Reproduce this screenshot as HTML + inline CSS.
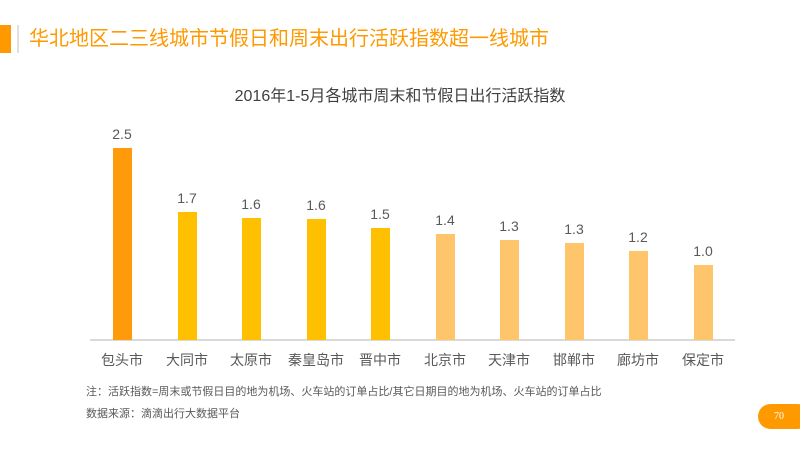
<!DOCTYPE html>
<html><head><meta charset="utf-8"><style>
body{margin:0;width:800px;height:450px;background:#fff;position:relative;overflow:hidden;font-family:"Liberation Sans","Noto Sans CJK SC",sans-serif;}
.a{position:absolute;}
.bar{position:absolute;width:19px;bottom:110px;}
.v{position:absolute;width:60px;text-align:center;font-size:14px;color:#595959;}
.l{position:absolute;width:80px;text-align:center;font-size:14px;color:#595959;top:350px;}
</style></head><body>
<div class="a" style="left:0;top:25px;width:11px;height:28px;background:#FF9900"></div>
<div class="a" style="left:17px;top:25px;width:2px;height:28px;background:#e0e0e0"></div>
<div class="a" style="left:29px;top:26px;font-size:20px;color:#FF9900;line-height:26px;">华北地区二三线城市节假日和周末出行活跃指数超一线城市</div>
<div class="a" style="left:0;width:800px;top:82px;text-align:center;font-size:16px;color:#404040;">2016年1-5月各城市周末和节假日出行活跃指数</div>
<div class="a" style="left:90px;top:339px;width:645px;height:2px;background:#d9d9d9"></div>

<div class="bar" style="left:113px;top:148px;background:#FF9A0A"></div>
<div class="bar" style="left:178px;top:212px;background:#FFC000"></div>
<div class="bar" style="left:242px;top:218px;background:#FFC000"></div>
<div class="bar" style="left:307px;top:219px;background:#FFC000"></div>
<div class="bar" style="left:371px;top:228px;background:#FFC000"></div>
<div class="bar" style="left:436px;top:234px;background:#FFC56A"></div>
<div class="bar" style="left:500px;top:240px;background:#FFC56A"></div>
<div class="bar" style="left:565px;top:243px;background:#FFC56A"></div>
<div class="bar" style="left:629px;top:251px;background:#FFC56A"></div>
<div class="bar" style="left:694px;top:265px;background:#FFC56A"></div>

<div class="v" style="left:92px;top:126px">2.5</div>
<div class="v" style="left:157px;top:190px">1.7</div>
<div class="v" style="left:221px;top:196px">1.6</div>
<div class="v" style="left:286px;top:197px">1.6</div>
<div class="v" style="left:350px;top:206px">1.5</div>
<div class="v" style="left:415px;top:212px">1.4</div>
<div class="v" style="left:479px;top:218px">1.3</div>
<div class="v" style="left:544px;top:221px">1.3</div>
<div class="v" style="left:608px;top:229px">1.2</div>
<div class="v" style="left:673px;top:243px">1.0</div>

<div class="l" style="left:82px">包头市</div>
<div class="l" style="left:147px">大同市</div>
<div class="l" style="left:211px">太原市</div>
<div class="l" style="left:276px">秦皇岛市</div>
<div class="l" style="left:340px">晋中市</div>
<div class="l" style="left:405px">北京市</div>
<div class="l" style="left:469px">天津市</div>
<div class="l" style="left:534px">邯郸市</div>
<div class="l" style="left:598px">廊坊市</div>
<div class="l" style="left:663px">保定市</div>

<div class="a" style="left:86px;top:383px;font-size:11px;color:#595959;">注：活跃指数=周末或节假日目的地为机场、火车站的订单占比/其它日期目的地为机场、火车站的订单占比</div>
<div class="a" style="left:86px;top:405px;font-size:11px;color:#595959;">数据来源：滴滴出行大数据平台</div>
<div class="a" style="left:758px;top:404px;width:52px;height:25px;border-radius:13px;background:#FF9900;"></div>
<div class="a" style="left:758px;top:404px;width:42px;height:25px;line-height:25px;text-align:center;font-size:10px;color:#fff;font-family:'Liberation Serif',serif;">70</div>
</body></html>
